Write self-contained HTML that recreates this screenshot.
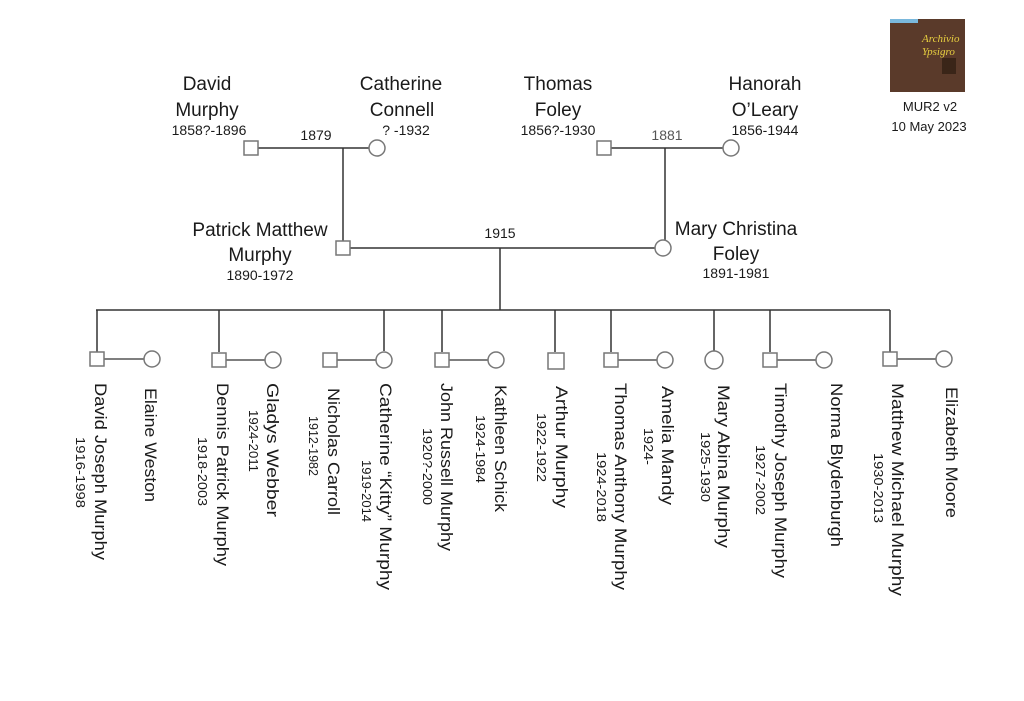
<!DOCTYPE html>
<html><head><meta charset="utf-8"><style>
html,body{margin:0;padding:0;background:#fff;}
svg{display:block;}
text{font-family:"Liberation Sans",sans-serif;fill:#1a1a1a;}
</style></head><body>
<svg width="1024" height="701" viewBox="0 0 1024 701" xmlns="http://www.w3.org/2000/svg">
<rect width="1024" height="701" fill="#fff"/>
<!-- logo -->
<rect x="890" y="19" width="75" height="73" fill="#5a3a2a"/>
<rect x="890" y="19" width="28" height="4" fill="#7ab8dc"/>
<rect x="942" y="58" width="14" height="16" fill="#3a2518"/>
<text x="922" y="42" font-size="11" font-style="italic" style="fill:#e8d040;font-family:'Liberation Serif',serif">Archivio</text>
<text x="922" y="55" font-size="11" font-style="italic" style="fill:#e8d040;font-family:'Liberation Serif',serif">Ypsigro</text>
<text x="930" y="111" font-size="13" text-anchor="middle">MUR2  v2</text>
<text x="929" y="131" font-size="13" text-anchor="middle">10 May 2023</text>

<g stroke="#333" stroke-width="1.5" fill="none">
<line x1="258" y1="148" x2="369" y2="148"/>
<line x1="343" y1="148" x2="343" y2="241"/>
<line x1="611" y1="148" x2="723" y2="148"/>
<line x1="665" y1="148" x2="665" y2="240"/>
<line x1="350" y1="248" x2="655" y2="248"/>
<line x1="500" y1="248" x2="500" y2="310"/>
<line x1="96" y1="310" x2="890" y2="310"/>
<line x1="97" y1="310" x2="97" y2="352"/>
<line x1="219" y1="310" x2="219" y2="352"/>
<line x1="384" y1="310" x2="384" y2="351"/>
<line x1="442" y1="310" x2="442" y2="352"/>
<line x1="555" y1="310" x2="555" y2="352"/>
<line x1="611" y1="310" x2="611" y2="352"/>
<line x1="714" y1="310" x2="714" y2="351"/>
<line x1="770" y1="310" x2="770" y2="352"/>
<line x1="890" y1="310" x2="890" y2="352"/>
</g>
<g stroke="#555" stroke-width="1.5">
<line x1="104" y1="359" x2="144" y2="359"/>
<line x1="226" y1="360" x2="265" y2="360"/>
<line x1="337" y1="360" x2="376" y2="360"/>
<line x1="449" y1="360" x2="488" y2="360"/>
<line x1="618" y1="360" x2="657" y2="360"/>
<line x1="777" y1="360" x2="816" y2="360"/>
<line x1="897" y1="359" x2="936" y2="359"/>
</g>
<g stroke="#777" stroke-width="1.5" fill="#fff">
<rect x="244" y="141" width="14" height="14"/>
<circle cx="377" cy="148" r="8"/>
<rect x="597" y="141" width="14" height="14"/>
<circle cx="731" cy="148" r="8"/>
<rect x="336" y="241" width="14" height="14"/>
<circle cx="663" cy="248" r="8"/>
<rect x="90" y="352" width="14" height="14"/><circle cx="152" cy="359" r="8"/>
<rect x="212" y="353" width="14" height="14"/><circle cx="273" cy="360" r="8"/>
<rect x="323" y="353" width="14" height="14"/><circle cx="384" cy="360" r="8"/>
<rect x="435" y="353" width="14" height="14"/><circle cx="496" cy="360" r="8"/>
<rect x="548" y="353" width="16" height="16"/>
<rect x="604" y="353" width="14" height="14"/><circle cx="665" cy="360" r="8"/>
<circle cx="714" cy="360" r="9"/>
<rect x="763" y="353" width="14" height="14"/><circle cx="824" cy="360" r="8"/>
<rect x="883" y="352" width="14" height="14"/><circle cx="944" cy="359" r="8"/>
</g>

<!-- top labels -->
<g font-size="19" text-anchor="middle">
<text x="207" y="90">David</text>
<text x="207" y="116">Murphy</text>
<text x="401" y="90">Catherine</text>
<text x="402" y="116">Connell</text>
<text x="558" y="90">Thomas</text>
<text x="558" y="116">Foley</text>
<text x="765" y="90">Hanorah</text>
<text x="765" y="116">O’Leary</text>
<text x="260" y="236">Patrick Matthew</text>
<text x="260" y="261">Murphy</text>
<text x="736" y="235">Mary Christina</text>
<text x="736" y="260">Foley</text>
</g>
<g font-size="14" text-anchor="middle">
<text x="209" y="135">1858?-1896</text>
<text x="406" y="135">? -1932</text>
<text x="558" y="135">1856?-1930</text>
<text x="765" y="135">1856-1944</text>
<text x="316" y="140">1879</text>
<text x="667" y="140" style="fill:#555">1881</text>
<text x="500" y="238">1915</text>
<text x="260" y="280">1890-1972</text>
<text x="736" y="278">1891-1981</text>
</g>

<!-- rotated names -->
<g font-size="17">
<text transform="translate(95,383) rotate(90)" textLength="177" lengthAdjust="spacingAndGlyphs">David Joseph Murphy</text>
<text transform="translate(145,388) rotate(90)" textLength="114" lengthAdjust="spacingAndGlyphs">Elaine Weston</text>
<text transform="translate(217,383) rotate(90)" textLength="183" lengthAdjust="spacingAndGlyphs">Dennis Patrick Murphy</text>
<text transform="translate(267,383) rotate(90)" textLength="134" lengthAdjust="spacingAndGlyphs">Gladys Webber</text>
<text transform="translate(328,388) rotate(90)" textLength="127" lengthAdjust="spacingAndGlyphs">Nicholas Carroll</text>
<text transform="translate(380,383) rotate(90)" textLength="207" lengthAdjust="spacingAndGlyphs">Catherine “Kitty” Murphy</text>
<text transform="translate(441,383) rotate(90)" textLength="168" lengthAdjust="spacingAndGlyphs">John Russell Murphy</text>
<text transform="translate(495,385) rotate(90)" textLength="127" lengthAdjust="spacingAndGlyphs">Kathleen Schick</text>
<text transform="translate(556,386) rotate(90)" textLength="122" lengthAdjust="spacingAndGlyphs">Arthur Murphy</text>
<text transform="translate(615,383) rotate(90)" textLength="207" lengthAdjust="spacingAndGlyphs">Thomas Anthony Murphy</text>
<text transform="translate(662,386) rotate(90)" textLength="119" lengthAdjust="spacingAndGlyphs">Amelia Mandy</text>
<text transform="translate(718,385) rotate(90)" textLength="163" lengthAdjust="spacingAndGlyphs">Mary Abina Murphy</text>
<text transform="translate(775,383) rotate(90)" textLength="195" lengthAdjust="spacingAndGlyphs">Timothy Joseph Murphy</text>
<text transform="translate(831,383) rotate(90)" textLength="164" lengthAdjust="spacingAndGlyphs">Norma Blydenburgh</text>
<text transform="translate(892,383) rotate(90)" textLength="213" lengthAdjust="spacingAndGlyphs">Matthew Michael Murphy</text>
<text transform="translate(946,387) rotate(90)" textLength="131" lengthAdjust="spacingAndGlyphs">Elizabeth Moore</text>
</g>
<g font-size="12.5">
<text transform="translate(76,437) rotate(90)" textLength="71" lengthAdjust="spacingAndGlyphs">1916-1998</text>
<text transform="translate(198,437) rotate(90)" textLength="69" lengthAdjust="spacingAndGlyphs">1918-2003</text>
<text transform="translate(249,410) rotate(90)" textLength="62" lengthAdjust="spacingAndGlyphs">1924-2011</text>
<text transform="translate(309,416) rotate(90)" textLength="60" lengthAdjust="spacingAndGlyphs">1912-1982</text>
<text transform="translate(362,460) rotate(90)" textLength="62" lengthAdjust="spacingAndGlyphs">1919-2014</text>
<text transform="translate(423,428) rotate(90)" textLength="77" lengthAdjust="spacingAndGlyphs">1920?-2000</text>
<text transform="translate(476,415) rotate(90)" textLength="68" lengthAdjust="spacingAndGlyphs">1924-1984</text>
<text transform="translate(537,413) rotate(90)" textLength="69" lengthAdjust="spacingAndGlyphs">1922-1922</text>
<text transform="translate(597,452) rotate(90)" textLength="70" lengthAdjust="spacingAndGlyphs">1924-2018</text>
<text transform="translate(644,428) rotate(90)" textLength="37" lengthAdjust="spacingAndGlyphs">1924-</text>
<text transform="translate(701,432) rotate(90)" textLength="70" lengthAdjust="spacingAndGlyphs">1925-1930</text>
<text transform="translate(756,445) rotate(90)" textLength="70" lengthAdjust="spacingAndGlyphs">1927-2002</text>
<text transform="translate(874,453) rotate(90)" textLength="70" lengthAdjust="spacingAndGlyphs">1930-2013</text>
</g>
</svg>
</body></html>
